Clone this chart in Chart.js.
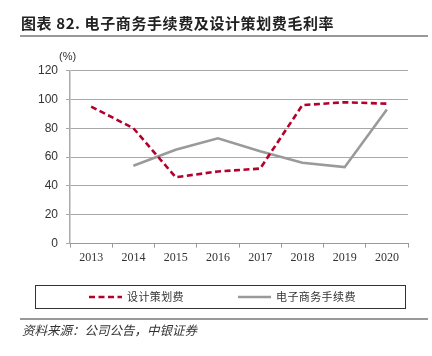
<!DOCTYPE html>
<html><head><meta charset="utf-8">
<script src="https://cdn.jsdelivr.net/npm/chart.js@4"></script>
<style>
html,body{margin:0;padding:0;background:#fff;}
#wrap{position:relative;width:432px;height:356px;}
</style></head>
<body><div id="wrap"><canvas id="c" width="432" height="356"></canvas></div>
<script>
const titleText = '图表 82. 电子商务手续费及设计策划费毛利率';
const sourceText = '资料来源：公司公告，中银证券';
const unitLabel = '(%)';
const years = ['2013','2014','2015','2016','2017','2018','2019','2020'];
const designLabel = '设计策划费';
const designValues = [95, 80, 46, 50, 52, 96, 98, 97];
const ecomLabel = '电子商务手续费';
const ecomValues = [null, 54, 65, 73, 64, 56, 53, 93];
const yTicks = [0, 20, 40, 60, 80, 100, 120];

const CJK = '"Noto Sans CJK SC", sans-serif';

const decor = {
  id: 'decor',
  afterDraw(chart) {
    const ctx = chart.ctx;
    ctx.save();
    // title
    ctx.fillStyle = '#222';
    ctx.font = 'bold 15px ' + CJK;
    ctx.textBaseline = 'middle';
    ctx.textAlign = 'left';
    ctx.letterSpacing = '0.6px';
    ctx.fillText(titleText, 21, 23);
    ctx.letterSpacing = '0px';
    // rules
    ctx.strokeStyle = '#777';
    ctx.lineWidth = 1.5;
    ctx.beginPath(); ctx.moveTo(20, 36); ctx.lineTo(428, 36); ctx.stroke();
    ctx.beginPath(); ctx.moveTo(20, 319); ctx.lineTo(428, 319); ctx.stroke();
    // unit
    ctx.fillStyle = '#333';
    ctx.font = '11px "Liberation Sans", Arial, sans-serif';
    ctx.fillText(unitLabel, 59, 57);
    // source
    ctx.font = 'italic 12.5px ' + CJK;
    ctx.fillStyle = '#333';
    ctx.fillText(sourceText, 22, 330);
    // legend box
    ctx.strokeStyle = '#333';
    ctx.lineWidth = 1;
    ctx.strokeRect(35.5, 285.5, 370, 23);
    const items = [
      {ds: chart.data.datasets[0], x: 89},
      {ds: chart.data.datasets[1], x: 238}
    ];
    items.forEach(it => {
      ctx.strokeStyle = it.ds.borderColor;
      ctx.lineWidth = it.ds.borderWidth;
      ctx.setLineDash(it.ds.borderDash || []);
      ctx.beginPath(); ctx.moveTo(it.x, 297); ctx.lineTo(it.x + 33, 297); ctx.stroke();
      ctx.setLineDash([]);
      ctx.fillStyle = '#333';
      ctx.font = '11px ' + CJK;
      ctx.letterSpacing = '0.4px';
      ctx.fillText(it.ds.label, it.x + 38, 297);
      ctx.letterSpacing = '0px';
    });
    ctx.restore();
  }
};

new Chart(document.getElementById('c'), {
  type: 'line',
  data: {
    labels: years,
    datasets: [
      {label: designLabel, data: designValues, borderColor: '#B3002D', borderWidth: 2.6, borderDash: [6, 3.5], pointRadius: 0, tension: 0, fill: false},
      {label: ecomLabel, data: ecomValues, borderColor: '#9a9a9a', borderWidth: 2.6, pointRadius: 0, tension: 0, fill: false}
    ]
  },
  options: {
    responsive: false,
    animation: false,
    devicePixelRatio: 1,
    layout: {padding: {left: 30, right: 24, top: 70.5, bottom: 88}},
    plugins: {legend: {display: false}, tooltip: {enabled: false}},
    scales: {
      x: {
        offset: true,
        grid: {offset: true, drawOnChartArea: false, drawTicks: true, tickLength: 4, color: '#999'},
        border: {color: '#999', width: 1},
        ticks: {color: '#333', font: {family: '"Liberation Serif", "Times New Roman", serif', size: 12}, padding: 3, maxRotation: 0}
      },
      y: {
        min: 0, max: 120,
        afterBuildTicks(axis) { axis.ticks = yTicks.map(v => ({value: v})); },
        grid: {color: '#a8a8a8', lineWidth: 1, tickLength: 4, drawTicks: true},
        border: {color: '#aaa', width: 1.5},
        ticks: {color: '#333', font: {family: '"Liberation Sans", Arial, sans-serif', size: 12}, padding: 8}
      }
    }
  },
  plugins: [decor]
});
</script></body></html>
